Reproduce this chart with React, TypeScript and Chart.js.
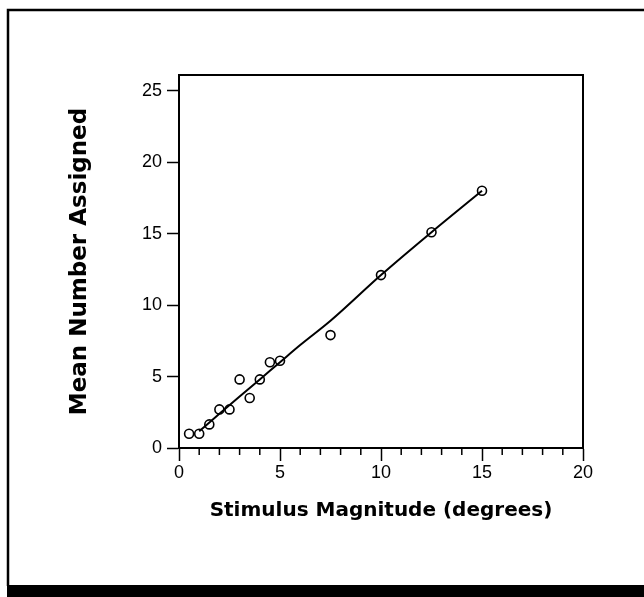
import React, { useEffect, useRef } from "react";
import { Chart, registerables } from "chart.js";

Chart.register(...registerables);

// Observed points: stimulus magnitude (degrees) vs mean number assigned
const stimulusX = [0.5, 1.0, 1.5, 2.0, 2.5, 3.0, 3.5, 4.0, 4.5, 5.0, 7.5, 10.0, 12.5, 15.0];
const meanAssigned = [1.0, 1.0, 1.65, 2.7, 2.7, 4.8, 3.5, 4.8, 6.0, 6.1, 7.9, 12.1, 15.1, 18.0];

// Fitted line
const fitX = [1, 2, 3, 4, 5, 6, 7.5, 10, 12.5, 15];
const fitY = [1.17, 2.4, 3.6, 4.8, 6.0, 7.2, 8.9, 12.1, 15.1, 18.0];

const xTitle = "Stimulus Magnitude (degrees)";
const yTitle = "Mean Number Assigned";

const W = 644;
const H = 597;

const framePlugin = {
  id: "frame",
  beforeDraw(chart: any) {
    const ctx = chart.ctx;
    ctx.save();
    ctx.fillStyle = "#fff";
    ctx.fillRect(0, 0, chart.width, chart.height);
    ctx.strokeStyle = "#000";
    ctx.lineWidth = 2.5;
    ctx.beginPath();
    ctx.moveTo(8, 586);
    ctx.lineTo(8, 10);
    ctx.lineTo(chart.width, 10);
    ctx.stroke();
    ctx.fillStyle = "#000";
    ctx.fillRect(7, 585, chart.width - 7, chart.height - 585);
    ctx.restore();
  },
  afterDraw(chart: any) {
    const ctx = chart.ctx;
    const a = chart.chartArea;
    const xs = chart.scales.x;
    ctx.save();
    ctx.strokeStyle = "#000";
    ctx.lineWidth = 2;
    ctx.beginPath();
    ctx.moveTo(a.left, a.top);
    ctx.lineTo(a.right, a.top);
    ctx.lineTo(a.right, a.bottom);
    ctx.stroke();
    // minor ticks on x axis
    ctx.lineWidth = 1.5;
    ctx.beginPath();
    xs.ticks.forEach((t: any) => {
      if (t.value % 5 !== 0) {
        const px = xs.getPixelForValue(t.value);
        ctx.moveTo(px, a.bottom);
        ctx.lineTo(px, a.bottom + 7);
      }
    });
    ctx.stroke();
    ctx.restore();
  },
};

export default function App() {
  const ref = useRef<HTMLCanvasElement | null>(null);
  useEffect(() => {
    if (!ref.current) return;
    const chart = new Chart(ref.current, {
      type: "scatter",
      data: {
        datasets: [
          {
            type: "line",
            data: fitX.map((x, i) => ({ x, y: fitY[i] })),
            borderColor: "#000",
            borderWidth: 2,
            pointRadius: 0,
            fill: false,
            cubicInterpolationMode: "monotone",
          } as any,
          {
            type: "scatter",
            data: stimulusX.map((x, i) => ({ x, y: meanAssigned[i] })),
            borderColor: "#000",
            backgroundColor: "rgba(0,0,0,0)",
            borderWidth: 1.6,
            pointRadius: 4.5,
            pointHoverRadius: 4.5,
          },
        ],
      },
      options: {
        responsive: false,
        animation: false,
        devicePixelRatio: 1,
        layout: { padding: { top: 75, right: 61, left: 0, bottom: 0 } },
        plugins: { legend: { display: false }, tooltip: { enabled: false } },
        scales: {
          x: {
            type: "linear",
            min: 0,
            max: 20,
            afterFit(scale: any) {
              scale.height = 149;
            },
            border: { display: true, color: "#000", width: 2 },
            grid: {
              drawOnChartArea: false,
              drawTicks: true,
              tickLength: 13,
              tickWidth: 1.5,
              tickColor: (c: any) => (c.tick && c.tick.value % 5 === 0 ? "#000" : "rgba(0,0,0,0)"),
            },
            ticks: {
              stepSize: 1,
              autoSkip: false,
              maxRotation: 0,
              includeBounds: false,
              padding: 1,
              color: "#000",
              font: { family: "Liberation Sans", size: 18 },
              callback: (v: any) => (Number(v) % 5 === 0 ? String(v) : ""),
            },
            title: {
              display: true,
              text: xTitle,
              color: "#000",
              font: { family: "DejaVu Sans", size: 20, weight: "bold" },
              padding: { top: 0, bottom: 74 },
            },
          },
          y: {
            type: "linear",
            min: 0,
            max: 26.1,
            afterFit(scale: any) {
              scale.width = 179;
            },
            border: { display: true, color: "#000", width: 2 },
            grid: {
              drawOnChartArea: false,
              drawTicks: true,
              tickLength: 12,
              tickWidth: 1.5,
              tickColor: "#000",
            },
            ticks: {
              stepSize: 5,
              includeBounds: false,
              padding: 5,
              color: "#000",
              font: { family: "Liberation Sans", size: 18 },
            },
            title: {
              display: true,
              text: yTitle,
              color: "#000",
              font: { family: "DejaVu Sans", size: 23, weight: "bold" },
              padding: { top: 66, bottom: 0 },
            },
          },
        },
      },
      plugins: [framePlugin],
    });
    return () => chart.destroy();
  }, []);
  return (
    <div style={{ position: "fixed", left: 0, top: 0, width: W, height: H }}>
      <canvas ref={ref} width={W} height={H} style={{ width: W, height: H, display: "block" }} />
    </div>
  );
}
